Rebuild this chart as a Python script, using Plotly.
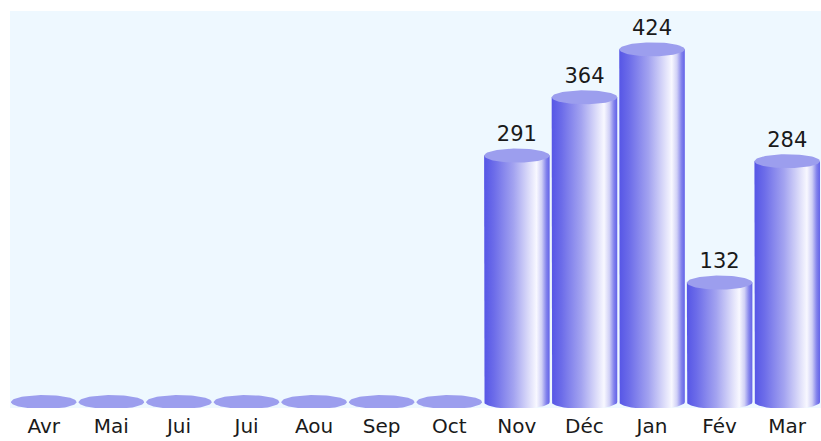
import numpy as np
import plotly.graph_objects as go

categories = ["Avr", "Mai", "Jui", "Jui", "Aou", "Sep", "Oct", "Nov", "Déc", "Jan", "Fév", "Mar"]
values = [0, 0, 0, 0, 0, 0, 0, 291, 364, 424, 132, 284]

# style constants
W, H = 821, 441
ML, MR, MT, MB = 10, 0, 11, 33
Y_MIN, Y_MAX = -25, 472
BAR_W = 0.97
plot_h = H - MT - MB
units_per_px = (Y_MAX - Y_MIN) / plot_h
ELL_RY = 7 * units_per_px          # ellipse half-height in value units
BASE = -14 * units_per_px          # cylinder bottom (3D depth offset)
TOP_COLOR = "#9C9EEE"
BG = "#EEF8FF"
grad = [[0.0, "#5656E6"], [0.15, "#6C6CE9"], [0.45, "#A3A3F0"], [0.7, "#E0E0FA"],
        [0.8, "#F8F8FF"], [0.88, "#D0D0F6"], [0.95, "#8282EC"], [1.0, "#6262E8"]]

fig = go.Figure()
t_half = np.linspace(np.pi, 2 * np.pi, 40)   # lower half of ellipse, left -> right
t_full = np.linspace(0, 2 * np.pi, 80)
rx = BAR_W / 2

for i, v in enumerate(values):
    if v > 0:
        bx = list(i + rx * np.cos(t_half))
        by = list(BASE + ELL_RY * np.sin(t_half))
        xs = [i - rx] + bx + [i + rx, i - rx]
        ys = [v] + by + [v, v]
        fig.add_trace(go.Scatter(x=xs, y=ys, mode="lines", fill="toself",
                                 line=dict(width=0), fillgradient=dict(type="horizontal", colorscale=grad),
                                 hoverinfo="skip", showlegend=False))
    top = v if v > 0 else BASE
    fig.add_trace(go.Scatter(x=list(i + rx * np.cos(t_full)), y=list(top + ELL_RY * np.sin(t_full)),
                             mode="lines", fill="toself", fillcolor=TOP_COLOR,
                             line=dict(width=0, color=TOP_COLOR), hoverinfo="skip", showlegend=False))

lab_idx = [i for i, v in enumerate(values) if v > 0]
fig.add_trace(go.Scatter(x=lab_idx, y=[values[i] + ELL_RY + 2 * units_per_px for i in lab_idx],
                         mode="text", text=[str(values[i]) for i in lab_idx],
                         textposition="top center",
                         textfont=dict(family="DejaVu Sans", size=21, color="#1a1a1a"),
                         hoverinfo="skip", showlegend=False, cliponaxis=False))

fig.update_layout(
    width=W, height=H, margin=dict(l=ML, r=MR, t=MT, b=MB),
    paper_bgcolor="white", plot_bgcolor=BG, showlegend=False,
    xaxis=dict(range=[-0.5, len(categories) - 0.5], tickvals=list(range(len(categories))),
               ticktext=categories, showgrid=False, zeroline=False, showline=False, ticks="",
               ticklabelstandoff=4,
               tickfont=dict(family="DejaVu Sans", size=20, color="#1a1a1a"), fixedrange=True),
    yaxis=dict(range=[Y_MIN, Y_MAX], showgrid=False, zeroline=False, showline=False,
               showticklabels=False, ticks="", fixedrange=True),
)
fig.write_html("out.html", config={"displayModeBar": False},
               post_script="document.body.style.margin='0';document.body.style.overflow='hidden';")
